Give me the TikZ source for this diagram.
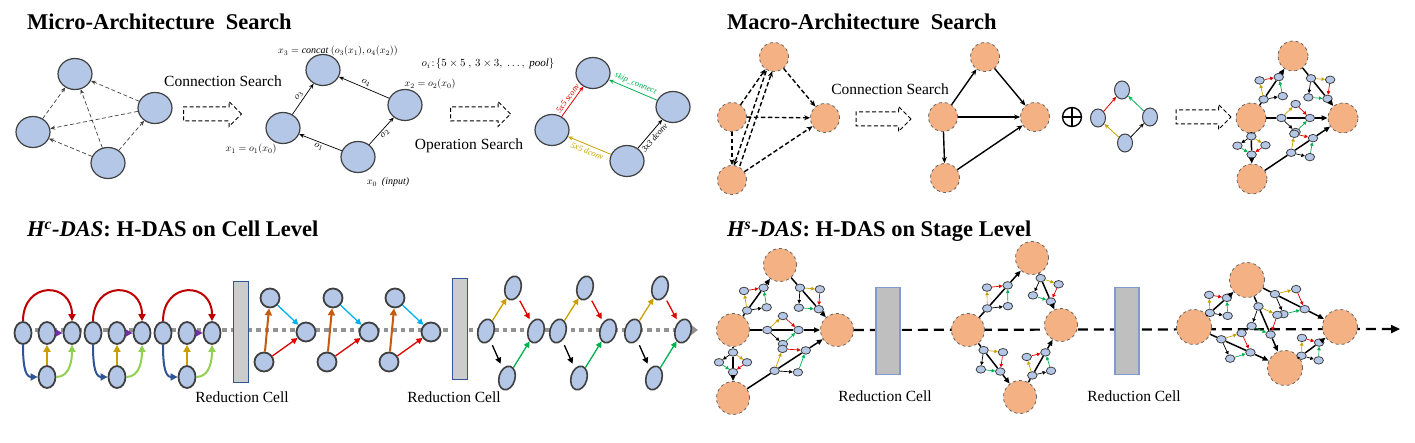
\documentclass[tikz,border=0pt]{standalone}
\usepackage{fontspec}
\setmainfont{Liberation Serif}
\usepackage{xcolor}
\usetikzlibrary{shapes,arrows,arrows.meta,positioning,calc}

\definecolor{cellblue}{HTML}{B4C7E7}
\definecolor{stageorange}{HTML}{F4B183}
\definecolor{rim}{HTML}{404040}
\definecolor{opred}{HTML}{E00000}
\definecolor{darkred}{HTML}{C00000}
\definecolor{opgreen}{HTML}{00B050}
\definecolor{opgold}{HTML}{C9A000}
\definecolor{opblue}{HTML}{2F5597}
\definecolor{oplime}{HTML}{92D050}
\definecolor{oppurple}{HTML}{7030A0}
\definecolor{oporange}{HTML}{C55A11}
\definecolor{opsky}{HTML}{00B0F0}
\definecolor{boxgray}{HTML}{BFBFBF}
\definecolor{boxline}{HTML}{7F9ACB}

\tikzset{
  title/.style={font=\fontsize{22.5}{26}\selectfont\bfseries, inner sep=0pt, anchor=base west},
  lbl/.style={font=\fontsize{15.5}{18}\selectfont, inner sep=0pt, anchor=base},
  formula/.style={font=\fontsize{10}{12}\selectfont, inner sep=0pt, anchor=base},
  oplbl/.style={font=\fontsize{10}{12}\selectfont\itshape, inner sep=1.5pt},
  namelbl/.style={oplbl, font=\fontsize{8.5}{10}\selectfont\itshape, inner sep=1pt},
  cell/.style={ellipse, draw=rim, line width=1.2pt, fill=cellblue, minimum width=34pt, minimum height=31pt, inner sep=0pt},
  smallcell/.style={cell, line width=1pt, minimum width=15pt, minimum height=18pt},
  hcell/.style={cell, line width=1.8pt, minimum width=17pt, minimum height=22pt},
  tcell/.style={cell, circle, line width=1.8pt, minimum size=19pt},
  dcell/.style={cell, line width=1.6pt, minimum width=16pt, minimum height=24pt, rotate=-15},
  mini/.style={cell, line width=0.8pt, minimum width=9.5pt, minimum height=7.5pt},
  stage/.style={circle, draw=rim!80, dashed, line width=0.8pt, fill=stageorange, minimum size=29pt, inner sep=0pt},
  bigstage/.style={stage, minimum size=33pt},
  cand/.style={draw=rim, line width=0.7pt, dash pattern=on 4pt off 2.5pt, -{Stealth[length=5pt,width=4pt]}},
  candthick/.style={draw=black, line width=1.4pt, dash pattern=on 4.5pt off 2.5pt, -{Stealth[length=6pt,width=5pt]}},
  conn/.style={draw=black, line width=0.7pt, -{Stealth[length=5pt,width=4pt]}},
  connthick/.style={draw=black, line width=1.4pt, -{Stealth[length=6pt,width=5pt]}},
  opedge/.style={line width=0.8pt, -{Stealth[length=5pt,width=4pt]}},
  thickop/.style={line width=2pt, -{Triangle[length=7pt,width=7pt]}},
  medop/.style={line width=1.3pt, -{Triangle[length=6pt,width=6pt]}},
  tinyop/.style={line width=0.7pt, -{Triangle[length=3.5pt,width=3.5pt]}},
  trunk/.style={line width=1.5pt},
  cellflow/.style={draw=gray!85, line width=4.5pt, dash pattern=on 4.5pt off 4pt, -{Triangle[length=9pt,width=13pt]}},
  stageflow/.style={line width=2.2pt, dash pattern=on 10pt off 6pt, -{Triangle[length=9pt,width=8pt]}},
  redbox/.style={rectangle, draw=opblue, line width=1pt, fill=boxgray!80, minimum width=15pt, minimum height=100pt, inner sep=0pt},
  stagebox/.style={rectangle, draw=boxline, line width=1.2pt, fill=boxgray, minimum width=24pt, minimum height=87pt, inner sep=0pt},
  hollow/.style={single arrow, draw=black, fill=white, line width=1pt, dash pattern=on 4pt off 2.5pt, minimum height=#1, inner xsep=0pt, inner ysep=6.5pt, single arrow head extend=5.5pt, single arrow head indent=0pt}
}

% mini cell sitting on a stage edge: name, from, to, start, end
\newcommand\minicell[5]{%
  \node[mini] (#1s) at ($(#2)!#4!(#3)$) {};
  \node[mini] (#1e) at ($(#2)!#5!(#3)$) {};
  \node[mini] (#1p) at ($(#1s)!0.5!(#1e)!14pt!90:(#1e)$) {};
  \node[mini] (#1q) at ($(#1s)!0.5!(#1e)!14pt!-90:(#1e)$) {};
  \draw[trunk] (#2) -- (#1s);
  \draw[trunk] (#1s) -- (#1e);
  \draw[trunk, -{Triangle[length=6pt,width=5pt]}] (#1e) -- (#3);
  \draw[tinyop, opgold] (#1s) -- (#1p);
  \draw[tinyop, opred] (#1p) -- (#1e);
  \draw[tinyop, black] (#1s) -- (#1q);
  \draw[tinyop, opgreen] (#1q) -- (#1e);
}

\begin{document}
\begin{tikzpicture}[x=1pt, y=-1pt]
\useasboundingbox (0,0) rectangle (1415,443);

% ---------------- Micro-Architecture Search ----------------
\node[title] (microtitle) at (27,30) {Micro-Architecture\ \ Search};
% all candidate connections
\node[cell] (ca) at (75,74) {};
\node[cell] (cb) at (33,132) {};
\node[cell] (cc) at (155,108) {};
\node[cell] (cd) at (108,163) {};
\foreach \u/\v in {cb/ca, cc/ca, cd/ca, cc/cb, cd/cb, cd/cc}
  \draw[cand] (\u) -- (\v);
\node[lbl] (consearch) at (223,87) {Connection Search};
\node[hollow=58pt] (hollowa) at (209,114) {};
% kept connections
\node[cell] (ka) at (323,70) {};
\node[cell] (kb) at (283,128) {};
\node[cell] (kc) at (405,105) {};
\node[cell] (kd) at (358,157) {};
\draw[conn] (kb) -- node[oplbl, sloped, above] {$o_3$} (ka);
\draw[conn] (kc) -- node[oplbl, sloped, above] {$o_4$} (ka);
\draw[conn] (kd) -- node[oplbl, sloped, below] {$o_1$} (kb);
\draw[conn] (kd) -- node[oplbl, sloped, below] {$o_2$} (kc);
\node[formula] (fx3) at (338,54) {$x_3 = \mathit{concat}\ (o_3(x_1), o_4(x_2))$};
\node[formula] (fx2) at (430,87) {$x_2 = o_2(x_0)$};
\node[formula] (fx1) at (251,152) {$x_1 = o_1(x_0)$};
\node[formula] (fx0) at (388,185) {$x_0$\ \ \textit{(input)}};
\node[formula, font=\fontsize{11}{13}\selectfont] (fops) at (488,67) {$o_i\!:\!\{5\times 5\ ,\,3\times 3,\ \ldots,\ \mathit{pool}\}$};
\node[hollow=60pt] (hollowb) at (477,114) {};
\node[lbl] (opsearch) at (469,150) {Operation Search};
% operations picked
\node[cell] (ma) at (593,73) {};
\node[cell] (mb) at (552,130) {};
\node[cell] (mc) at (673,107) {};
\node[cell] (md) at (627,161) {};
\draw[opedge, opred] (mb) -- node[namelbl, sloped, above=1.5pt, pos=0.5] {5x5 sconv} (ma);
\draw[opedge, opgreen] (mc) -- node[namelbl, sloped, above=1.5pt] {skip\_connect} (ma);
\draw[opedge, opgold] (md) -- node[namelbl, sloped, below=1.5pt] {5x5 dconv} (mb);
\draw[opedge, black] (md) -- node[namelbl, sloped, below=1.5pt, pos=0.5] {3x3 dconv} (mc);

% ---------------- Macro-Architecture Search ----------------
\node[title] (macrotitle) at (727,30) {Macro-Architecture\ \ Search};
\node[stage] (p1t) at (774,57) {};
\node[stage] (p1l) at (732,117) {};
\node[stage] (p1r) at (825,118) {};
\node[stage] (p1b) at (732,180) {};
\foreach \u/\v in {p1l/p1t, p1t/p1r, p1l/p1r, p1l/p1b, p1b/p1r}
  \draw[candthick] (\u) -- (\v);
\draw[candthick, transform canvas={xshift=-3pt}] (p1t) -- (p1b);
\draw[candthick, transform canvas={xshift=3pt}] (p1b) -- (p1t);
\node[lbl] (consearchb) at (890,95) {Connection Search};
\node[hollow=55pt] (hollowc) at (880,119) {};
\node[stage] (p2t) at (985,57) {};
\node[stage] (p2l) at (943,117) {};
\node[stage] (p2r) at (1035,117) {};
\node[stage] (p2b) at (945,178) {};
\foreach \u/\v in {p2l/p2t, p2t/p2r, p2l/p2r, p2l/p2b, p2b/p2r}
  \draw[connthick] (\u) -- (\v);
\node[circle, draw, line width=1.4pt, minimum size=19pt, inner sep=0pt] (oplus) at (1072,117) {};
\draw[line width=1.4pt] (oplus.north) -- (oplus.south) (oplus.west) -- (oplus.east);
% the searched cell
\node[smallcell] (sct) at (1122,90) {};
\node[smallcell] (scl) at (1098,118) {};
\node[smallcell] (scr) at (1150,117) {};
\node[smallcell] (scb) at (1125,143) {};
\draw[opedge, opred] (scl) -- (sct);
\draw[opedge, opgreen] (scr) -- (sct);
\draw[opedge, opgold] (scb) -- (scl);
\draw[opedge, black] (scb) -- (scr);
\node[hollow=55pt] (hollowd) at (1200,117) {};
% cells put on every stage edge
\node[stage, minimum size=30pt] (p4t) at (1293,56) {};
\node[stage, minimum size=30pt] (p4l) at (1251,118) {};
\node[stage, minimum size=30pt] (p4r) at (1343,118) {};
\node[stage, minimum size=30pt] (p4b) at (1252,179) {};
\minicell{m4a}{p4l}{p4t}{0.3}{0.66}
\minicell{m4b}{p4t}{p4r}{0.36}{0.69}
\minicell{m4c}{p4l}{p4r}{0.33}{0.64}
\minicell{m4d}{p4l}{p4b}{0.3}{0.6}
\minicell{m4e}{p4b}{p4r}{0.43}{0.67}

% ---------------- H^c-DAS ----------------
\node[title] (hctitle) at (27,237) {\textit{H\textsuperscript{c}-DAS}: H-DAS on Cell Level};
\coordinate (cellend) at (698,330);
\draw[cellflow] (35,330) -- (cellend);
% normal cells
\foreach \i/\x in {1/23,2/93,3/163}{
  \node[hcell] (n\i-a) at (\x,333) {};
  \node[hcell] (n\i-b) at (\x+24,333) {};
  \node[hcell] (n\i-c) at (\x+49,333) {};
  \node[hcell] (n\i-d) at (\x+24,377) {};
  \draw[thickop, darkred, looseness=2.1] (n\i-a.north) to[out=90,in=90] (n\i-c.north);
  \draw[thickop, opblue] (n\i-a.south) to[out=-90,in=180] (n\i-d.west);
  \draw[thickop, opgold] (n\i-d) -- (n\i-b);
  \draw[thickop, oplime] (n\i-d.east) to[out=0,in=-90] (n\i-c.south);
  \draw[thickop, oppurple] (n\i-b) -- (n\i-c);
}
\node[redbox] (rb1) at (240.5,332) {};
\node[lbl] (rl1) at (242,402) {Reduction Cell};
% cells after the first reduction
\foreach \i/\x in {1/264,2/327,3/389}{
  \node[tcell] (r\i-t) at (\x+6,298) {};
  \node[tcell] (r\i-r) at (\x+42,332) {};
  \node[tcell] (r\i-b) at (\x,362) {};
  \draw[thickop, oporange] (r\i-b) -- (r\i-t);
  \draw[medop, opsky] (r\i-t) -- (r\i-r);
  \draw[medop, opred] (r\i-b) -- (r\i-r);
}
\node[redbox] (rb2) at (460,329) {};
\node[lbl] (rl2) at (454,402) {Reduction Cell};
% cells after the second reduction
\foreach \i/\x in {1/486,2/558,3/633}{
  \node[dcell] (d\i-l) at (\x,331) {};
  \node[dcell] (d\i-t) at (\x+27,288) {};
  \node[dcell] (d\i-r) at (\x+50,331) {};
  \node[dcell] (d\i-b) at (\x+21,378) {};
  \draw[medop, opgold] (d\i-l) -- (d\i-t);
  \draw[medop, opred, shorten <=4pt, shorten >=3pt] (d\i-t) -- (d\i-r);
  \draw[medop, black, shorten <=5pt, shorten >=5pt] (d\i-l) -- (d\i-b);
  \draw[medop, opgreen] (d\i-b) -- (d\i-r);
}

% ---------------- H^s-DAS ----------------
\node[title] (hstitle) at (727,237) {\textit{H\textsuperscript{s}-DAS}: H-DAS on Stage Level};
\node[bigstage] (s1t) at (780,265) {};
\node[bigstage] (s1l) at (733,330) {};
\node[bigstage] (s1r) at (837,330) {};
\node[bigstage] (s1b) at (733,398) {};
\coordinate (stageend) at (1400,329);
\draw[stageflow] (s1r) -- (stageend);
\minicell{u1a}{s1l}{s1t}{0.3}{0.65}
\minicell{u1b}{s1t}{s1r}{0.35}{0.68}
\minicell{u1c}{s1l}{s1r}{0.33}{0.63}
\minicell{u1d}{s1l}{s1b}{0.33}{0.62}
\minicell{u1e}{s1b}{s1r}{0.4}{0.7}
\node[stagebox] (sb1) at (888,331) {};
\node[lbl] (rl3) at (885,401) {Reduction Cell};
\node[bigstage] (s2t) at (1032,258) {};
\node[bigstage] (s2l) at (968,330) {};
\node[bigstage] (s2r) at (1061,325) {};
\node[bigstage] (s2b) at (1020,397) {};
\minicell{u2a}{s2l}{s2t}{0.3}{0.62}
\minicell{u2b}{s2t}{s2r}{0.3}{0.65}
\minicell{u2d}{s2l}{s2b}{0.3}{0.62}
\minicell{u2e}{s2b}{s2r}{0.3}{0.62}
\node[stagebox] (sb2) at (1127,331) {};
\node[lbl] (rl4) at (1134,401) {Reduction Cell};
\node[bigstage, minimum size=35pt] (s3t) at (1247,280) {};
\node[bigstage, minimum size=35pt] (s3l) at (1194,327) {};
\node[bigstage, minimum size=35pt] (s3r) at (1340,327) {};
\node[bigstage, minimum size=35pt] (s3b) at (1285,368) {};
\minicell{u3a}{s3l}{s3t}{0.3}{0.62}
\minicell{u3b}{s3t}{s3r}{0.3}{0.62}
\minicell{u3c}{s3t}{s3b}{0.3}{0.62}
\minicell{u3d}{s3l}{s3b}{0.3}{0.62}
\minicell{u3e}{s3b}{s3r}{0.3}{0.62}
\end{tikzpicture}
\end{document}
